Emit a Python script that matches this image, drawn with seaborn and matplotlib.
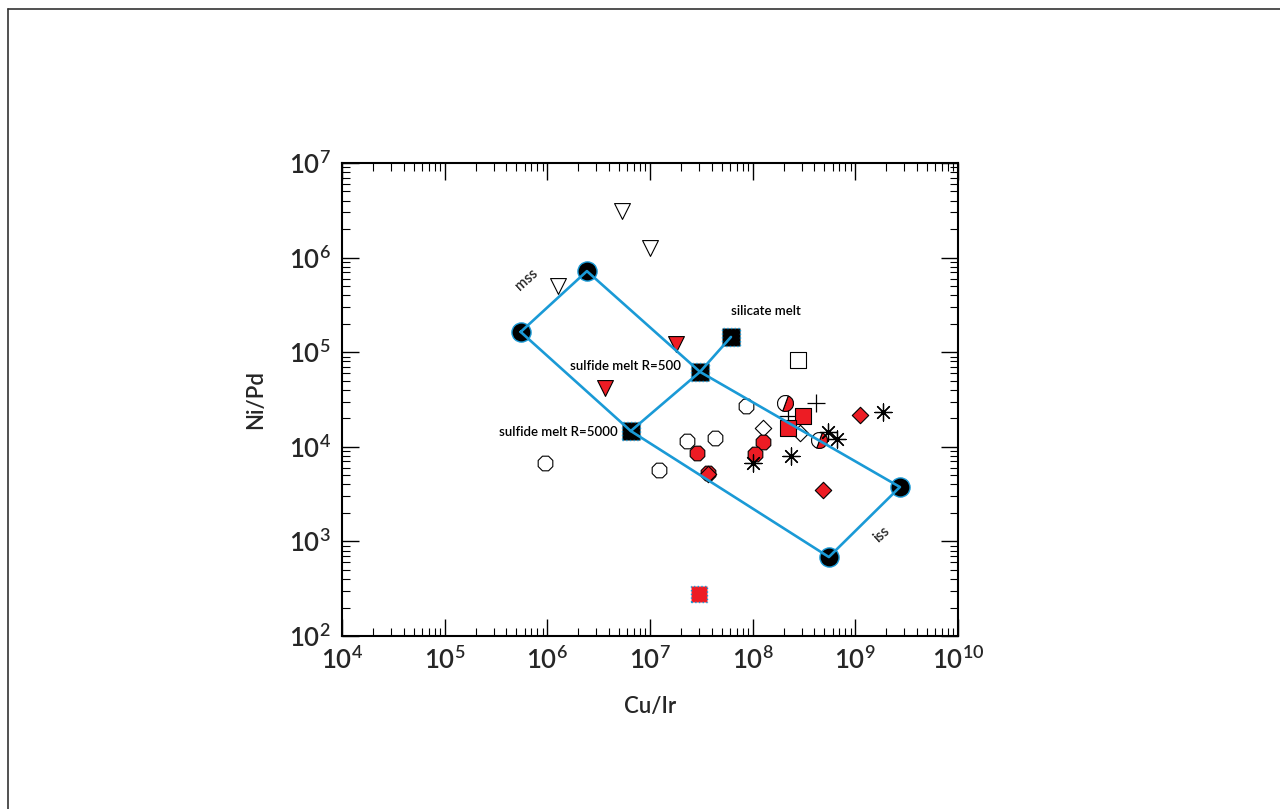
import numpy as np
import pandas as pd
import matplotlib
matplotlib.use("Agg")
import matplotlib.pyplot as plt
from matplotlib.lines import Line2D
from matplotlib.markers import MarkerStyle
from matplotlib.transforms import Affine2D
from matplotlib.ticker import LogLocator, NullFormatter
import seaborn as sns

# ---------------- data (Cu/Ir , Ni/Pd) ----------------
open_tri_x = [5.33e6, 1.0e7, 1.27e6]
open_tri_y = [3.11e6, 1.26e6, 5.0e5]
red_tri_x = [1.79e7, 3.65e6]
red_tri_y = [1.22e5, 4.19e4]
open_sq_x = [2.76e8]
open_sq_y = [8.3e4]
open_oct_x = [9.5e5, 1.22e7, 2.29e7, 4.3e7, 8.6e7]
open_oct_y = [6.7e3, 5.7e3, 1.15e4, 1.24e4, 2.7e4]
red_oct_x = [2.87e7, 3.67e7, 1.26e8, 1.05e8]
red_oct_y = [8.6e3, 5.3e3, 1.12e4, 8.4e3]
open_dia_x = [1.26e8, 2.89e8]
open_dia_y = [1.58e4, 1.4e4]
red_dia_x = [3.67e7, 1.11e9, 4.84e8]
red_dia_y = [5.2e3, 2.17e4, 3.49e3]
red_sq_x = [3.09e8, 2.21e8]
red_sq_y = [2.12e4, 1.58e4]
red_sq2_x = [3.0e7]
red_sq2_y = [278]
star_x = [1.01e8, 2.36e8, 5.42e8, 6.62e8, 1.86e9]
star_y = [6.7e3, 8.0e3, 1.43e4, 1.21e4, 2.33e4]
plus_x = [4.14e8, 2.21e8]
plus_y = [2.9e4, 2.1e4]
half_x = [2.07e8, 4.43e8]
half_y = [2.9e4, 1.18e4]

# model compositions
mss_x = [5.5e5, 2.43e6]          # mss low, mss high
mss_y = [1.64e5, 7.2e5]
melt_x = [6.15e7, 3.07e7, 6.5e6]  # silicate melt, R=500, R=5000
melt_y = [1.45e5, 6.2e4, 1.47e4]
iss_x = [2.72e9, 5.53e8]
iss_y = [3.76e3, 684]

x_ticks = [1e4, 1e5, 1e6, 1e7, 1e8, 1e9, 1e10]
y_ticks = [1e2, 1e3, 1e4, 1e5, 1e6, 1e7]

RED = "#ed1c24"
BLUE = "#1a9ad6"

# ---------------- style ----------------
sns.set_theme(style="ticks")
plt.rcParams["font.family"] = ["Lato", "DejaVu Sans"]
plt.rcParams["mathtext.fontset"] = "custom"
plt.rcParams["mathtext.rm"] = "Lato:semibold"
plt.rcParams["mathtext.it"] = "Lato:italic"
plt.rcParams["mathtext.bf"] = "Lato:bold"

fig = plt.figure(figsize=(12.8, 8.09), dpi=100)
ax = fig.add_axes([0.2672, 0.2138, 0.4812, 0.5847])

# frame lines of the figure (top & left)
fig.add_artist(Line2D([0.00625, 1.0], [0.9889, 0.9889], transform=fig.transFigure, color="#333333", lw=1.2))
fig.add_artist(Line2D([0.00625, 0.00625], [0.0, 0.9889], transform=fig.transFigure, color="#333333", lw=1.2))

ax.set_xscale("log")
ax.set_yscale("log")

ms = 130
ew = 0.8
sns.scatterplot(x=open_oct_x, y=open_oct_y, marker="8", s=ms, color="white", edgecolor="black", linewidth=ew, ax=ax, zorder=2)
sns.scatterplot(x=open_tri_x, y=open_tri_y, marker="v", s=ms, color="white", edgecolor="black", linewidth=ew, ax=ax, zorder=2)
sns.scatterplot(x=open_sq_x, y=open_sq_y, marker="s", s=ms, color="white", edgecolor="black", linewidth=ew, ax=ax, zorder=2)
sns.scatterplot(x=open_dia_x, y=open_dia_y, marker="D", s=70, color="white", edgecolor="black", linewidth=ew, ax=ax, zorder=2)
sns.scatterplot(x=plus_x, y=plus_y, marker="+", s=170, color="black", linewidth=0.9, ax=ax, zorder=2)
sns.scatterplot(x=red_oct_x, y=red_oct_y, marker="8", s=ms, color=RED, edgecolor="black", linewidth=ew, ax=ax, zorder=2.1)
sns.scatterplot(x=red_dia_x, y=red_dia_y, marker="D", s=70, color=RED, edgecolor="black", linewidth=ew, ax=ax, zorder=2.2)
sns.scatterplot(x=red_sq_x, y=red_sq_y, marker="s", s=ms, color=RED, edgecolor="black", linewidth=ew, ax=ax, zorder=2.2)
sns.scatterplot(x=red_sq2_x, y=red_sq2_y, marker="s", s=ms, color=RED, edgecolor=BLUE, linewidth=1.0, linestyle=":", ax=ax, zorder=2.2)
sns.scatterplot(x=red_tri_x, y=red_tri_y, marker="v", s=ms, color=RED, edgecolor="black", linewidth=ew, ax=ax, zorder=2.2)

half_marker = MarkerStyle("o", fillstyle="right", transform=Affine2D().rotate_deg(-20))
ax.plot(half_x, half_y, linestyle="none", marker=half_marker, markersize=11.5,
        markerfacecolor=RED, markerfacecoloralt="white", markeredgecolor="black",
        markeredgewidth=ew, zorder=2.3)

sns.scatterplot(x=star_x, y=star_y, marker=(8, 2, 0), s=150, color="black", linewidth=0.9, ax=ax, zorder=2.4)

# model end-members
sns.scatterplot(x=mss_x + iss_x, y=mss_y + iss_y, marker="o", s=190, color="black", edgecolor=BLUE, linewidth=1.0, ax=ax, zorder=3)
sns.scatterplot(x=melt_x, y=melt_y, marker="s", s=170, color="black", edgecolor=BLUE, linewidth=1.0, linestyle=":", ax=ax, zorder=3)

# model lines
poly_x = [mss_x[0], mss_x[1], melt_x[1], iss_x[0], iss_x[1], melt_x[2], mss_x[0]]
poly_y = [mss_y[0], mss_y[1], melt_y[1], iss_y[0], iss_y[1], melt_y[2], mss_y[0]]
sns.lineplot(x=poly_x, y=poly_y, sort=False, estimator=None, color=BLUE, lw=1.9, ax=ax, zorder=4)
mix_x = [melt_x[2], melt_x[1], melt_x[0]]
mix_y = [melt_y[2], melt_y[1], melt_y[0]]
sns.lineplot(x=mix_x, y=mix_y, sort=False, estimator=None, color=BLUE, lw=1.9, ax=ax, zorder=4)

# labels
tkw = dict(fontsize=9.5, fontweight="semibold", color="black", zorder=5)
ax.text(6.3e5, 5.8e5, "mss", rotation=42, ha="center", va="center", fontsize=10.5,
        fontweight="semibold", zorder=5)
ax.text(1.82e9, 1.17e3, "iss", rotation=42, ha="center", va="center", fontsize=10.5,
        fontweight="semibold", zorder=5)
ax.text(1.35e8, 2.73e5, "silicate melt", ha="center", va="center", **tkw)
ax.text(2.0e7, 7.15e4, "sulfide melt R=500", ha="right", va="center", **tkw)
ax.text(4.88e6, 1.43e4, "sulfide melt R=5000", ha="right", va="center", **tkw)

# axes
ax.set_xlim(1e4, 1e10)
ax.set_ylim(1e2, 1e7)
ax.set_xticks(x_ticks)
ax.set_yticks(y_ticks)
ax.xaxis.set_minor_locator(LogLocator(base=10, subs=np.arange(2, 10), numticks=20))
ax.yaxis.set_minor_locator(LogLocator(base=10, subs=np.arange(2, 10), numticks=20))
ax.xaxis.set_minor_formatter(NullFormatter())
ax.yaxis.set_minor_formatter(NullFormatter())
ax.tick_params(which="both", direction="in", top=True, right=True, color="black")
ax.tick_params(which="major", length=12, width=1.0, labelsize=18.5, pad=8)
ax.tick_params(which="minor", length=6, width=0.8)
for lab in ax.get_xticklabels() + ax.get_yticklabels():
    lab.set_fontweight("semibold")
for s in ax.spines.values():
    s.set_linewidth(1.5)
    s.set_color("black")

ax.set_xlabel("Cu/Ir", fontsize=16, fontweight="semibold", labelpad=16)
ax.set_ylabel("Ni/Pd", fontsize=16, fontweight="semibold", labelpad=16)
ax.grid(False)

fig.savefig("out.png", dpi=100)
